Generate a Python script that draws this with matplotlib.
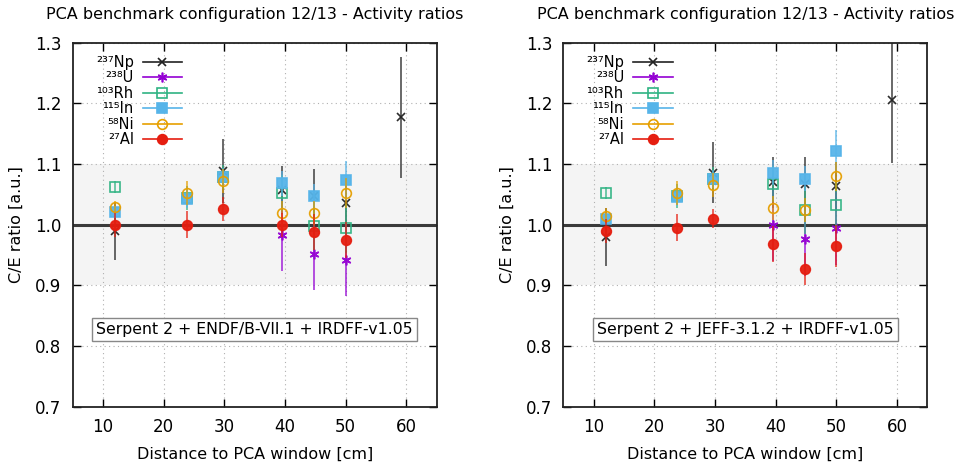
import matplotlib
matplotlib.use("Agg")
import matplotlib.pyplot as plt

title = "PCA benchmark configuration 12/13 - Activity ratios"
xlabel = "Distance to PCA window [cm]"
ylabel = "C/E ratio [a.u.]"
panel_labels = ["Serpent 2 + ENDF/B-VII.1 + IRDFF-v1.05", "Serpent 2 + JEFF-3.1.2 + IRDFF-v1.05"]

x6 = [12, 23.8, 29.7, 39.5, 44.8, 50]
x_np = [12, 29.7, 39.5, 44.8, 50, 59.1]
x_u = [39.5, 44.8, 50]

# ENDF panel
np_endf = [0.990, 1.089, 1.057, 1.047, 1.035, 1.177]
np_endf_err = [0.048, 0.053, 0.040, 0.045, 0.040, 0.100]
u_endf = [0.983, 0.951, 0.942]
u_endf_err = [0.060, 0.059, 0.060]
rh_endf = [1.062, 1.044, 1.079, 1.052, 0.998, 0.994]
rh_endf_err = [0.010, 0.020, 0.020, 0.030, 0.040, 0.040]
in_endf = [1.021, 1.043, 1.079, 1.068, 1.047, 1.073]
in_endf_err = [0.010, 0.015, 0.015, 0.020, 0.020, 0.032]
ni_endf = [1.029, 1.052, 1.072, 1.019, 1.019, 1.052]
ni_endf_err = [0.010, 0.020, 0.020, 0.020, 0.020, 0.025]
al_endf = [1.000, 1.000, 1.026, 1.000, 0.988, 0.975]
al_endf_err = [0.020, 0.022, 0.020, 0.020, 0.030, 0.030]

# JEFF panel
np_jeff = [0.980, 1.086, 1.070, 1.067, 1.063, 1.206]
np_jeff_err = [0.048, 0.050, 0.042, 0.045, 0.040, 0.104]
u_jeff = [1.000, 0.976, 0.994]
u_jeff_err = [0.060, 0.060, 0.060]
rh_jeff = [1.052, 1.047, 1.075, 1.067, 1.024, 1.032]
rh_jeff_err = [0.010, 0.020, 0.020, 0.030, 0.040, 0.040]
in_jeff = [1.009, 1.046, 1.075, 1.086, 1.076, 1.121]
in_jeff_err = [0.010, 0.015, 0.015, 0.020, 0.020, 0.035]
ni_jeff = [1.015, 1.052, 1.065, 1.028, 1.024, 1.080]
ni_jeff_err = [0.012, 0.020, 0.020, 0.020, 0.020, 0.024]
al_jeff = [0.990, 0.995, 1.010, 0.968, 0.927, 0.965]
al_jeff_err = [0.020, 0.022, 0.016, 0.030, 0.027, 0.035]

labels = ["²³⁷Np", "²³⁸U", "¹⁰³Rh", "¹¹⁵In", "⁵⁸Ni", "²⁷Al"]
colors = ["#222222", "#9400d3", "#2fb383", "#56b4e9", "#e69f00", "#e51e10"]
markers = ["x", (6, 2, 0), "s", "s", "o", "o"]
filled = [True, True, False, True, False, True]

panels = [
    [(x_np, np_endf, np_endf_err), (x_u, u_endf, u_endf_err), (x6, rh_endf, rh_endf_err),
     (x6, in_endf, in_endf_err), (x6, ni_endf, ni_endf_err), (x6, al_endf, al_endf_err)],
    [(x_np, np_jeff, np_jeff_err), (x_u, u_jeff, u_jeff_err), (x6, rh_jeff, rh_jeff_err),
     (x6, in_jeff, in_jeff_err), (x6, ni_jeff, ni_jeff_err), (x6, al_jeff, al_jeff_err)],
]

fig = plt.figure(figsize=(9.58, 4.67), dpi=100)
lefts = [72.7 / 958, 563.3 / 958]
for p, left in enumerate(lefts):
    ax = fig.add_axes([left, 0.1291, 364 / 958, 0.7795])
    ax.set_xlim(5, 65)
    ax.set_ylim(0.7, 1.3)
    ax.set_xticks([10, 20, 30, 40, 50, 60])
    ax.set_yticks([0.7, 0.8, 0.9, 1.0, 1.1, 1.2, 1.3])
    ax.yaxis.set_major_formatter(matplotlib.ticker.FormatStrFormatter("%.1f"))
    ax.grid(True, linestyle=(0, (1, 3)), color="#b0b0b0", linewidth=0.8, zorder=0)
    ax.set_axisbelow(True)
    ax.axhspan(0.9, 1.1, color="#f4f4f4", zorder=0.5, linewidth=0)
    ax.axhline(1.0, color="#3a3a3a", linewidth=2.2, zorder=1)
    ax.tick_params(direction="in", top=True, right=True, length=6, width=1, labelsize=12, pad=8)
    for s in ax.spines.values():
        s.set_linewidth(1.3)
        s.set_color("#222222")
        s.set_zorder(10)
    for i, (xs, ys, es) in enumerate(panels[p]):
        c = colors[i]
        mfc = c if filled[i] else "none"
        mew = 1.2
        ms = 7 if markers[i] != "x" else 6
        ax.errorbar(xs, ys, yerr=es, fmt="none", ecolor=c, elinewidth=1.2, alpha=0.8, capsize=0, zorder=2 + i)
        ax.plot(xs, ys, linestyle="none", marker=markers[i], color=c, mfc=mfc, mec=c,
                markersize=ms, mew=mew, zorder=2.5 + i, alpha=0.95)
        ax.plot([], [], linestyle="-", marker=markers[i], color=c, mfc=mfc, mec=c,
                markersize=ms, mew=mew, linewidth=1.2, label=labels[i])
    leg = ax.legend(loc="upper right", bbox_to_anchor=(0.30, 0.966), markerfirst=False, frameon=False,
                    prop={"family": "DejaVu Sans", "size": 10.5}, handlelength=2.7, labelspacing=0.03,
                    handletextpad=0.6, borderaxespad=0.0, borderpad=0.0)
    for t in leg.get_texts():
        t.set_ha("right")
    leg._legend_box.align = "right"
    ax.text(35, 0.827, panel_labels[p], ha="center", va="center", fontsize=11.3,
            bbox=dict(boxstyle="square,pad=0.25", facecolor="white", edgecolor="#888888", linewidth=1.0),
            zorder=12)
    ax.set_title(title, fontsize=11.5, pad=17)
    ax.set_xlabel(xlabel, fontsize=11.5, labelpad=8)
    ax.set_ylabel(ylabel, fontsize=11.5, labelpad=8)

fig.savefig("out.png", dpi=100)
